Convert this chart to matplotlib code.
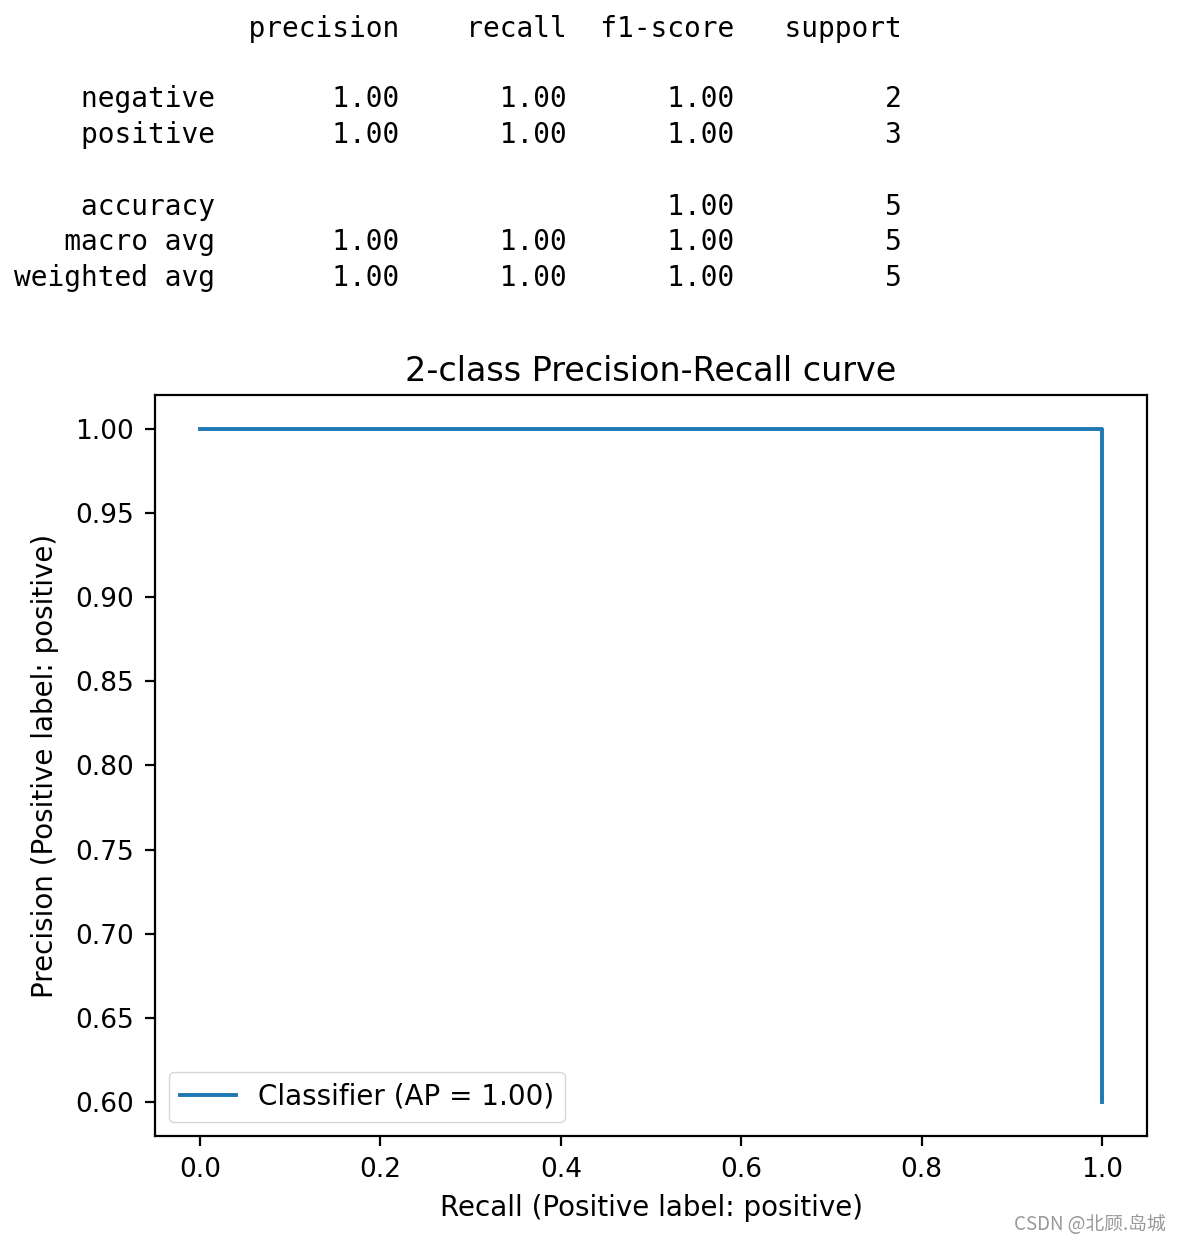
import matplotlib
matplotlib.use("Agg")
import matplotlib.pyplot as plt

# classification report values
class_names = ["negative", "positive"]
precision_vals = [1.00, 1.00]
recall_vals = [1.00, 1.00]
f1_vals = [1.00, 1.00]
support_vals = [2, 3]
accuracy = 1.00
total_support = 5
macro_avg = [1.00, 1.00, 1.00]
weighted_avg = [1.00, 1.00, 1.00]

# precision-recall curve points
recall_curve = [1.0, 1.0, 0.0]
precision_curve = [0.6, 1.0, 1.0]
avg_precision = 1.00

fig = plt.figure(figsize=(11.82, 12.44), dpi=100)

# build the text report like sklearn does
w = 12
lines = []
lines.append(" " * w + " " + "".join(f"{h:>10}" for h in ["precision", "recall", "f1-score", "support"]))
lines.append("")
for name, p, r, f, s in zip(class_names, precision_vals, recall_vals, f1_vals, support_vals):
    lines.append(f"{name:>{w}} {p:>10.2f}{r:>10.2f}{f:>10.2f}{s:>10d}")
lines.append("")
lines.append(f"{'accuracy':>{w}} {'':>10}{'':>10}{accuracy:>10.2f}{total_support:>10d}")
lines.append(f"{'macro avg':>{w}} " + "".join(f"{v:>10.2f}" for v in macro_avg) + f"{total_support:>10d}")
lines.append(f"{'weighted avg':>{w}} " + "".join(f"{v:>10.2f}" for v in weighted_avg) + f"{total_support:>10d}")

y_px = [29, 64, 99, 135, 171, 207, 242, 278]
for line, yp in zip(lines, y_px):
    if line:
        fig.text(14 / 1182, 1 - yp / 1244, line, family="DejaVu Sans Mono",
                 fontsize=20.1, ha="left", va="center", color="black")

ax = fig.add_axes([155 / 1182, 1 - 1136 / 1244, (1147 - 155) / 1182, (1136 - 395) / 1244])
ax.plot(recall_curve, precision_curve, drawstyle="steps-post", color="#1f77b4", lw=2.8,
        label=f"Classifier (AP = {avg_precision:.2f})")
ax.set_xlim(-0.05, 1.05)
ax.set_ylim(0.58, 1.02)
ax.set_xticks([0.0, 0.2, 0.4, 0.6, 0.8, 1.0])
ax.set_yticks([0.60, 0.65, 0.70, 0.75, 0.80, 0.85, 0.90, 0.95, 1.00])
ax.yaxis.set_major_formatter(matplotlib.ticker.FormatStrFormatter("%.2f"))
ax.tick_params(labelsize=19, length=7, width=1.6, pad=8)
for sp in ax.spines.values():
    sp.set_linewidth(1.6)
ax.set_xlabel("Recall (Positive label: positive)", fontsize=20, labelpad=8)
ax.set_ylabel("Precision (Positive label: positive)", fontsize=20, labelpad=12)
ax.set_title("2-class Precision-Recall curve", fontsize=24, pad=10)
ax.legend(loc="lower left", fontsize=20, handlelength=2.0)

fig.text(1166 / 1182, 1 - 1225 / 1244, "CSDN @北顾.岛城", family=["Noto Sans CJK SC", "DejaVu Sans"],
         fontsize=13.5, color="#999999", ha="right", va="center")

fig.savefig("out.png", dpi=100)
